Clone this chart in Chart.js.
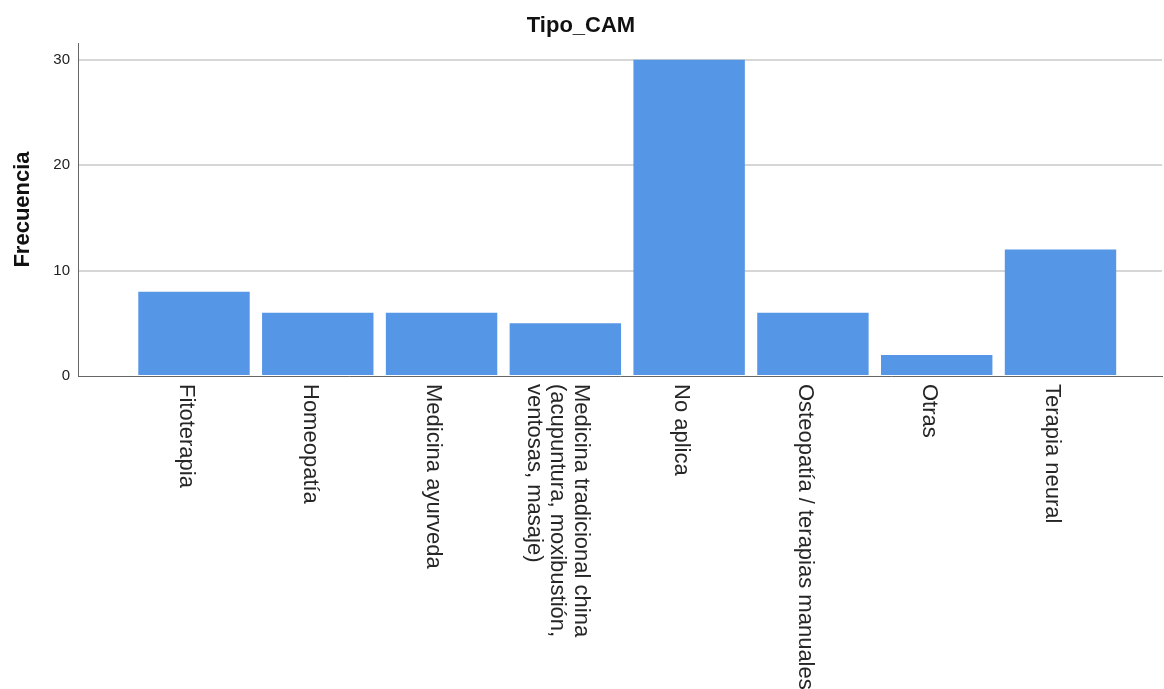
<!DOCTYPE html>
<html>
<head>
<meta charset="utf-8">
<script src="https://cdn.jsdelivr.net/npm/chart.js@4/dist/chart.umd.min.js"></script>
<style>
  html, body { margin: 0; padding: 0; background: #ffffff; }
  #wrap { width: 1164px; height: 689px; position: relative; }
</style>
</head>
<body>
<div id="wrap"><canvas id="c" width="1164" height="689"></canvas></div>
<script>
const chartTitle = 'Tipo_CAM';
const yAxisTitle = 'Frecuencia';
const categories = [
  'Fitoterapia',
  'Homeopatía',
  'Medicina ayurveda',
  ['Medicina tradicional china', '(acupuntura, moxibustión,', 'ventosas, masaje)'],
  'No aplica',
  'Osteopatía / terapias manuales',
  'Otras',
  'Terapia neural'
];
const frequencies = [8, 6, 6, 5, 30, 6, 2, 12];
const yTicks = [0, 10, 20, 30];

const rotLabels = {
  id: 'rotLabels',
  afterDraw(chart) {
    const ctx = chart.ctx;
    const xs = chart.scales.x;
    const top = chart.chartArea.bottom;
    ctx.save();
    ctx.font = '22px "Liberation Sans", Arial, sans-serif';
    ctx.fillStyle = '#262626';
    ctx.textAlign = 'left';
    ctx.textBaseline = 'middle';
    const lh = 23.5;
    categories.forEach((lab, i) => {
      const lines = Array.isArray(lab) ? lab : [lab];
      const cx = xs.getPixelForValue(i) - 8;
      ctx.save();
      ctx.translate(cx, top + 8);
      ctx.rotate(Math.PI / 2);
      const n = lines.length;
      lines.forEach((ln, j) => {
        const ly = (j - (n - 1) / 2) * lh;
        ctx.fillText(ln, 0, ly);
      });
      ctx.restore();
    });
    ctx.restore();
  }
};

new Chart(document.getElementById('c'), {
  type: 'bar',
  data: {
    datasets: [{
      data: frequencies.map((v, i) => ({ x: i, y: v })),
      backgroundColor: '#5596E6',
      borderWidth: 0,
      categoryPercentage: 1.0,
      barPercentage: 0.9
    }]
  },
  options: {
    responsive: false,
    animation: false,
    devicePixelRatio: 1,
    layout: { padding: { left: 0, right: 2, top: 0, bottom: 0 } },
    plugins: {
      legend: { display: false },
      tooltip: { enabled: false },
      title: {
        display: true,
        text: chartTitle,
        color: '#111111',
        font: { family: '"Liberation Sans", Arial, sans-serif', size: 22, weight: 'bold', lineHeight: 1.2 },
        padding: { top: 13, bottom: 3.6 }
      }
    },
    scales: {
      x: {
        type: 'linear',
        offset: false,
        min: -0.937,
        max: 7.82,
        afterBuildTicks(scale) {
          scale.ticks = categories.map((c, i) => ({ value: i }));
        },
        afterFit(scale) { scale.height = 313; },
        grid: { display: false, drawTicks: false, offset: false },
        border: { display: true, color: '#666666', width: 1 },
        ticks: { display: false }
      },
      y: {
        min: 0,
        max: 31.6,
        afterBuildTicks(scale) {
          scale.ticks = yTicks.map(v => ({ value: v }));
        },
        afterFit(scale) { scale.width = 78; },
        grid: {
          drawTicks: false,
          lineWidth: 2,
          color: (ctx) => (ctx.tick && ctx.tick.value === 0) ? 'rgba(0,0,0,0)' : '#d6d6d6'
        },
        border: { display: true, color: '#666666', width: 1 },
        ticks: {
          color: '#222222',
          padding: 8,
          font: { family: '"Liberation Sans", Arial, sans-serif', size: 15 }
        },
        title: {
          display: true,
          text: yAxisTitle,
          color: '#111111',
          font: { family: '"Liberation Sans", Arial, sans-serif', size: 22, weight: 'bold', lineHeight: 1.2 },
          padding: { top: 10, bottom: 0 }
        }
      }
    }
  },
  plugins: [rotLabels]
});
</script>
</body>
</html>
